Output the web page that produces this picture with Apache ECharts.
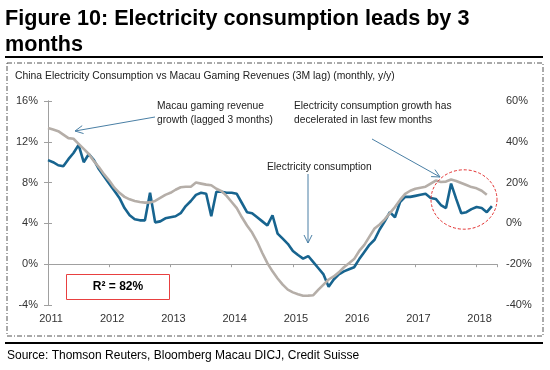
<!DOCTYPE html>
<html><head><meta charset="utf-8">
<script src="https://cdn.jsdelivr.net/npm/echarts@6/dist/echarts.min.js"></script>
<style>html,body{margin:0;padding:0;background:#fff}#c{width:550px;height:370px}</style>
</head><body><div id="c"></div>
<script>
// Year tick labels (one per 12 months, starting Jan 2011)
var years = ['2011','2012','2013','2014','2015','2016','2017','2018'];
// China electricity consumption growth, % y/y, monthly from Jan 2011 (left axis)
var electricity = [10.2,10.0,9.7,9.6,10.3,10.9,11.7,10.0,10.8,10.2,9.3,8.6,
  7.9,7.2,6.5,5.5,4.8,4.4,4.3,4.3,7.0,4.1,4.2,4.5,
  4.6,4.7,5.0,5.7,6.2,6.8,7.0,6.9,4.7,7.1,7.1,7.0,
  7.0,6.9,6.0,5.1,5.0,4.6,4.2,3.8,4.8,3.0,2.5,2.0,
  1.3,0.9,0.55,0.8,0.2,-0.4,-1.0,-2.2,-1.5,-1.0,-0.7,-0.5,
  -0.3,0.5,1.2,1.9,2.4,3.4,4.2,5.1,4.6,6.1,6.6,6.6,
  6.7,6.8,6.9,6.5,6.4,5.8,5.5,7.9,6.4,5.0,5.1,5.4,
  5.6,5.5,5.1,5.7];
// Macau gaming revenue growth (lagged 3 months), % y/y (right axis)
var gaming = [46.8,46.0,45.2,43.5,41.8,41.5,39.0,36.5,34.0,30.5,27.5,24.0,
  21.0,17.5,15.0,13.0,11.8,11.0,10.5,10.2,10.3,11.0,12.5,14.0,
  15.0,16.5,17.7,18.0,18.0,20.0,19.5,19.0,18.7,17.0,15.8,13.5,
  10.5,7.5,3.0,-1.0,-4.5,-9.0,-14.5,-19.5,-23.5,-27.0,-30.0,-32.5,
  -33.8,-34.7,-35.5,-35.4,-35.2,-32.5,-30.0,-27.5,-26.0,-24.0,-21.5,-19.5,
  -17.5,-13.5,-10.5,-6.5,-2.5,-0.5,2.0,5.0,8.0,11.5,14.5,16.0,
  17.0,17.5,18.0,19.5,21.0,20.3,20.5,21.5,20.8,19.8,18.8,17.8,
  17.2,16.0,14.0];
var leftTicks = {min:-4, max:16, step:4};
var rightTicks = {min:-40, max:60, step:20};

var BLUE = '#17648f', GREY = '#b5aea8', AXIS = '#a0a0a0', TXT = '#333';
var FONT = '"Liberation Sans", Arial, sans-serif';

function arrow(x1,y1,x2,y2){
  var dx=x2-x1, dy=y2-y1, L=Math.sqrt(dx*dx+dy*dy), ux=dx/L, uy=dy/L;
  var bx=x2-ux*8, by=y2-uy*8, px=-uy*4, py=ux*4;
  var st={stroke:'#4a7fa5', lineWidth:1, fill:null};
  return [
    {type:'line', shape:{x1:x1,y1:y1,x2:x2,y2:y2}, style:st, z:100},
    {type:'polyline', shape:{points:[[bx+px,by+py],[x2,y2],[bx-px,by-py]]}, style:st, z:100}
  ];
}
function note(x,y,txt){
  return {type:'text', x:x, y:y, scaleX:0.93, originX:0, originY:0,
    style:{text:txt, font:'11px '+FONT, fill:'#222', lineHeight:14}};
}

var graphics = [
  {type:'text', left:5, top:6, style:{text:'Figure 10: Electricity consumption leads by 3\nmonths', font:'bold 21.6px '+FONT, fill:'#000', lineHeight:26}},
  {type:'line', shape:{x1:5,y1:57,x2:543,y2:57}, style:{stroke:'#000', lineWidth:2}},
  {type:'rect', shape:{x:7,y:63,width:536,height:273}, style:{fill:null, stroke:'#555', lineWidth:1, lineDash:[5,2,1,2]}},
  {type:'line', shape:{x1:5,y1:343,x2:543,y2:343}, style:{stroke:'#000', lineWidth:2}},
  {type:'text', left:7, top:350, style:{text:'Source: Thomson Reuters, Bloomberg Macau DICJ, Credit Suisse', font:'12px '+FONT, fill:'#000'}},
  {type:'text', x:15, y:70, scaleX:0.943, originX:0, originY:0, style:{text:'China Electricity Consumption vs Macau Gaming Revenues (3M lag) (monthly, y/y)', font:'11px '+FONT, fill:'#222'}},
  note(157,99,'Macau gaming revenue\ngrowth (lagged 3 months)'),
  note(294,99,'Electricity consumption growth has\ndecelerated in last few months'),
  note(267,160,'Electricity consumption'),
  {type:'circle', shape:{cx:464, cy:199.5, r:33}, scaleY:0.9, originX:464, originY:199.5, style:{fill:null, stroke:'#e02424', lineWidth:1, lineDash:[3,2]}, z:100},
  {type:'rect', shape:{x:66.5,y:274.5,width:103,height:25}, style:{fill:'#fff', stroke:'#e84040', lineWidth:1}, z:100},
  {type:'text', x:118, y:287, style:{text:'R² = 82%', font:'bold 12px '+FONT, fill:'#000', textAlign:'center', textVerticalAlign:'middle'}, z:101}
].concat(arrow(155,117,75,131), arrow(372,139,440,177), arrow(308,174,308,243));

var chart = echarts.init(document.getElementById('c'), null, {renderer:'canvas'});
chart.setOption({
  animation:false,
  backgroundColor:'#fff',
  grid:{left:48, right:53, top:101, bottom:65},
  xAxis:[
    {type:'value', min:0, max:88, interval:12, position:'bottom',
     axisLine:{show:false}, axisTick:{show:false}, splitLine:{show:false},
     axisLabel:{color:TXT, fontSize:11, fontFamily:FONT, margin:8, padding:[0,0,0,6],
       formatter:function(v){return v%12===0 ? (years[v/12]||'') : '';}}},
    {type:'value', min:0, max:88, interval:12,
     axisLine:{show:true, onZero:true, onZeroAxisIndex:0, lineStyle:{color:AXIS, width:1}},
     axisTick:{show:true, inside:true, length:3, lineStyle:{color:AXIS}},
     axisLabel:{show:false}, splitLine:{show:false}}
  ],
  yAxis:[
    {type:'value', min:leftTicks.min, max:leftTicks.max, interval:leftTicks.step, position:'left',
     axisLine:{show:true, lineStyle:{color:AXIS}}, axisTick:{show:true, length:4, lineStyle:{color:AXIS}},
     splitLine:{show:false},
     axisLabel:{formatter:'{value}%', color:TXT, fontSize:11, fontFamily:FONT, margin:10}},
    {type:'value', min:rightTicks.min, max:rightTicks.max, interval:rightTicks.step, position:'right',
     axisLine:{show:true, lineStyle:{color:AXIS}}, axisTick:{show:true, length:4, lineStyle:{color:AXIS}},
     splitLine:{show:false},
     axisLabel:{formatter:'{value}%', color:TXT, fontSize:11, fontFamily:FONT, margin:9}}
  ],
  series:[
    {type:'line', name:'Electricity consumption', xAxisIndex:0, yAxisIndex:0, showSymbol:false,
     data:electricity.map(function(v,i){return [i,v];}), lineStyle:{color:BLUE, width:2.6}, z:3},
    {type:'line', name:'Macau gaming revenue (3M lag)', xAxisIndex:0, yAxisIndex:1, showSymbol:false,
     data:gaming.map(function(v,i){return [i,v];}), lineStyle:{color:GREY, width:2.6}, z:4}
  ],
  graphic:graphics
});
</script></body></html>
